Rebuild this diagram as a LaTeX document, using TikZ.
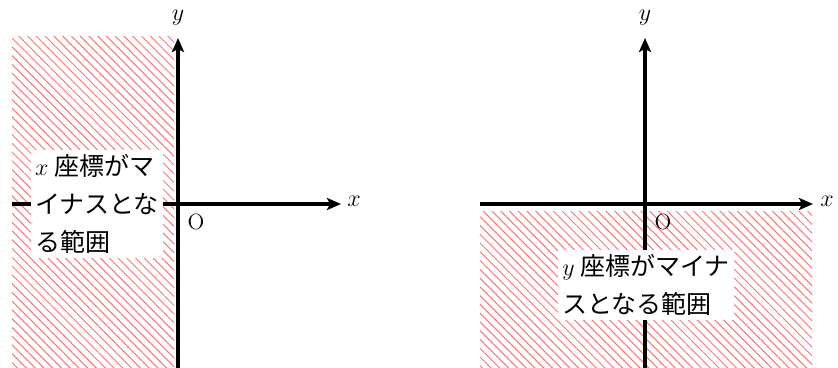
\documentclass[tikz,border=0pt]{standalone}
\usepackage{fontspec}
\newfontfamily\jp{Noto Sans CJK JP}
\usetikzlibrary{patterns.meta,arrows.meta}
\tikzset{
  axis/.style={line width=1.6pt,-{Stealth[length=7pt,width=6pt,inset=1.5pt]}},
  hatch/.style={pattern={Lines[angle=-45,distance=3.1pt,line width=0.5pt]},pattern color=red!55},
  lbl/.style={fill=white,inner sep=2pt,align=left,font=\fontsize{12.5}{19}\selectfont\jp},
  axlbl/.style={font=\fontsize{13}{15}\selectfont},
}
\begin{document}
\begin{tikzpicture}[x=0.5pt,y=-0.5pt]
\useasboundingbox (0,0) rectangle (838,368);
% left panel
\fill[hatch] (12,37) rectangle (174,368);
\coordinate (lxs) at (12,204);
\coordinate (lxe) at (341,204);
\coordinate (lys) at (178,368);
\coordinate (lye) at (178,38);
\draw[axis] (lxs) -- (lxe);
\draw[axis] (lys) -- (lye);
\node[axlbl] (lx) at (354,201) {$x$};
\node[axlbl] (ly) at (178,18) {$y$};
\node[axlbl,font=\fontsize{11}{13}\selectfont] (lo) at (196,222) {O};
\node[lbl] (ll) at (97,204) {$x$ 座標がマ\\イナスとな\\る範囲};
% right panel
\fill[hatch] (480,212) rectangle (812,368);
\coordinate (rxs) at (480,204);
\coordinate (rxe) at (813,204);
\coordinate (rys) at (645,368);
\coordinate (rye) at (645,38);
\draw[axis] (rxs) -- (rxe);
\draw[axis] (rys) -- (rye);
\node[axlbl] (rx) at (827,201) {$x$};
\node[axlbl] (ry) at (645,18) {$y$};
\node[axlbl,font=\fontsize{11}{13}\selectfont] (ro) at (663,222) {O};
\node[lbl] (rl) at (646,285) {$y$ 座標がマイナ\\スとなる範囲};
\end{tikzpicture}
\end{document}
